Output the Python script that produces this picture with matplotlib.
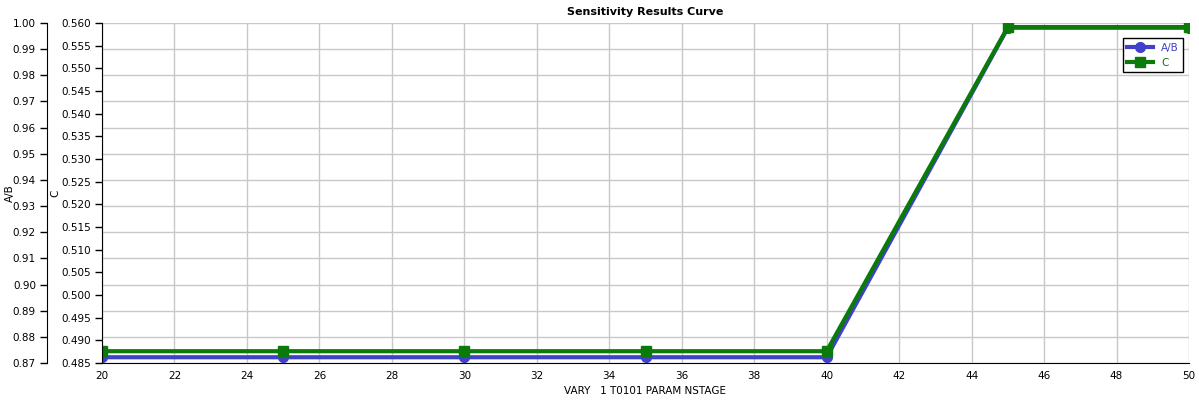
import matplotlib.pyplot as plt
import numpy as np

# data
vary = [20, 25, 30, 35, 40, 45, 50]
ab = [0.8722, 0.8722, 0.8722, 0.8722, 0.8722, 0.9982, 0.9982]
c = [0.4876, 0.4876, 0.4876, 0.4876, 0.4876, 0.5591, 0.5591]

W, H = 1199, 407
fig = plt.figure(figsize=(W / 100, H / 100), dpi=100)
ax = fig.add_axes([102 / W, 44 / H, (1189 - 102) / W, (363 - 23) / H])
ax2 = ax.twinx()

blue = '#4040c8'
green = '#0a7a0a'
aw = 1189 - 102

# A/B on the outer left axis
ax.plot(vary, ab, color=blue, lw=3, marker='o', ms=7, label='A/B')
ax.set_ylim(0.87, 1.00)
ax.set_yticks(np.arange(0.87, 1.0001, 0.01))
ax.set_yticklabels(['%.2f' % v for v in np.arange(0.87, 1.0001, 0.01)])
ax.spines['left'].set_position(('outward', 55 * 0.72))
ax.set_ylabel('A/B', fontsize=7.5)
ax.yaxis.set_label_coords((15 - 102) / aw, 0.5)
ax.grid(True, color='#c8c8c8', lw=1)
ax.set_axisbelow(True)

# C on the inner left axis
ax2.plot(vary, c, color=green, lw=3, marker='s', ms=7, label='C')
ax2.set_ylim(0.485, 0.560)
ax2.set_yticks(np.arange(0.485, 0.5601, 0.005))
ax2.set_yticklabels(['%.3f' % v for v in np.arange(0.485, 0.5601, 0.005)])
ax2.yaxis.set_ticks_position('left')
ax2.yaxis.set_label_position('left')
ax2.spines['left'].set_position(('outward', 0))
ax2.set_ylabel('C', fontsize=7.5)
ax2.yaxis.set_label_coords((60 - 102) / aw, 0.5)

for a in (ax, ax2):
    a.spines['top'].set_visible(False)
    a.spines['right'].set_visible(False)
    a.tick_params(axis='y', labelsize=7.5, length=5, width=1, pad=3)
    a.tick_params(axis='x', labelsize=7.5, length=0, pad=6)
ax2.spines['bottom'].set_visible(False)
ax2.spines['left'].set_visible(True)

ax.set_xlim(20, 50)
ax.set_xticks(range(20, 51, 2))
ax.set_xlabel('VARY   1 T0101 PARAM NSTAGE', fontsize=7.5, labelpad=3)
ax.set_title('Sensitivity Results Curve', fontsize=8, fontweight='bold', pad=6)

h1, l1 = ax.get_legend_handles_labels()
h2, l2 = ax2.get_legend_handles_labels()
leg = ax2.legend(h1 + h2, l1 + l2, loc='upper right', bbox_to_anchor=(0.9995, 0.97),
                 fontsize=7.5, fancybox=False, edgecolor='black', framealpha=1,
                 handlelength=2.5, borderpad=0.4, labelspacing=0.5)
leg.get_frame().set_linewidth(1)
leg.get_texts()[0].set_color(blue)
leg.get_texts()[1].set_color(green)

fig.savefig('out.png', dpi=100)
